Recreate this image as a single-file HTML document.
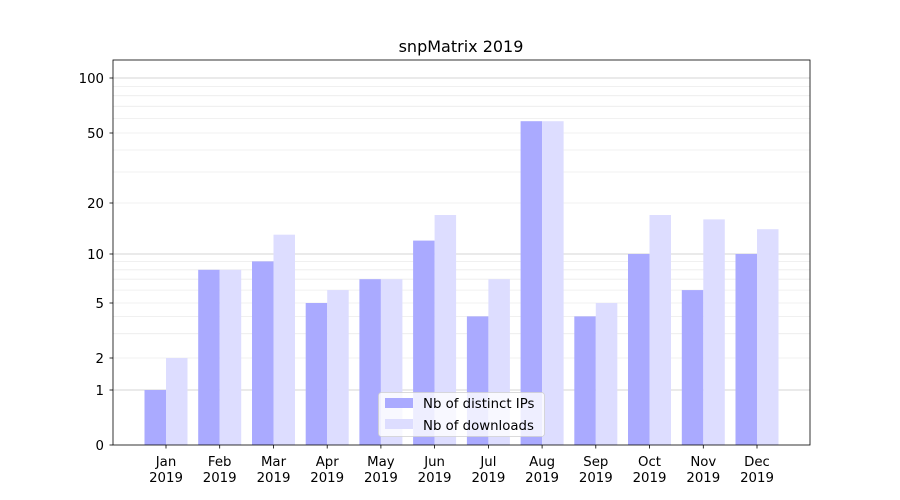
<!DOCTYPE html>
<html><head><meta charset="utf-8"><style>
html,body{margin:0;padding:0;background:#fff;}
svg{display:block;font-family:"DejaVu Sans","Liberation Sans",sans-serif;}
</style></head><body>
<svg id="s" width="900" height="500" viewBox="0 0 900 500" xmlns="http://www.w3.org/2000/svg"></svg>
<script>
var pts=[[1,390],[2,358],[5,303],[10,254],[20,203],[50,133],[100,78]];
function Y(v){
  if(v<=1) return 445-55*v;
  for(var i=0;i<pts.length-1;i++){
    var a=pts[i],b=pts[i+1];
    if(v<=b[0]) return a[1]+(b[1]-a[1])*Math.log(v/a[0])/Math.log(b[0]/a[0]);
  }
  var a=pts[5],b=pts[6];return a[1]+(b[1]-a[1])*Math.log(v/a[0])/Math.log(b[0]/a[0]);
}
var h='';
// minor grid
var minors=[2,3,4,5,6,7,8,9,20,30,40,50,60,70,80,90];
minors.forEach(function(v){var y=Y(v).toFixed(1);h+='<line x1="113" x2="810" y1="'+y+'" y2="'+y+'" stroke="#ececec" stroke-width="0.8"/>';});
[1,10,100].forEach(function(v){var y=Y(v).toFixed(1);h+='<line x1="113" x2="810" y1="'+y+'" y2="'+y+'" stroke="#c8c8c8" stroke-width="0.8"/>';});
var ip=[1,8,9,5,7,12,4,58,4,10,6,10], dl=[2,8,13,6,7,17,7,58,5,17,16,14];
var m=['Jan','Feb','Mar','Apr','May','Jun','Jul','Aug','Sep','Oct','Nov','Dec'];
for(var i=0;i<12;i++){
  var c=166+i*53.727;
  var y1=Y(ip[i]),y2=Y(dl[i]);
  h+='<rect x="'+(c-21.5).toFixed(1)+'" y="'+y1.toFixed(1)+'" width="21.5" height="'+(445-y1).toFixed(1)+'" fill="#aaaaff"/>';
  h+='<rect x="'+c.toFixed(1)+'" y="'+y2.toFixed(1)+'" width="21.5" height="'+(445-y2).toFixed(1)+'" fill="#ddddff"/>';
  h+='<line x1="'+c.toFixed(1)+'" x2="'+c.toFixed(1)+'" y1="445" y2="448.5" stroke="#000" stroke-width="0.8"/>';
  h+='<text x="'+c.toFixed(1)+'" y="466" font-size="13.3" text-anchor="middle">'+m[i]+'</text>';
  h+='<text x="'+c.toFixed(1)+'" y="482" font-size="13.3" text-anchor="middle">2019</text>';
}
[0,1,2,5,10,20,50,100].forEach(function(v){var y=(v==0?445:Y(v));
  h+='<line x1="109.5" x2="113" y1="'+y.toFixed(1)+'" y2="'+y.toFixed(1)+'" stroke="#000" stroke-width="0.8"/>';
  h+='<text x="104" y="'+(y+4.8).toFixed(1)+'" font-size="13.3" text-anchor="end">'+v+'</text>';});
h+='<rect x="113" y="60" width="697" height="385" fill="none" stroke="#000" stroke-width="0.8"/>';
h+='<text x="461" y="52" font-size="16" text-anchor="middle">snpMatrix 2019</text>';
// legend
h+='<rect x="378.5" y="392.5" width="166" height="44" rx="3" fill="#fff" fill-opacity="0.8" stroke="#d0d0d0" stroke-width="0.8"/>';
h+='<rect x="385" y="398" width="28" height="10" fill="#aaaaff"/>';
h+='<text x="423" y="408" font-size="13.3">Nb of distinct IPs</text>';
h+='<rect x="385" y="419" width="28" height="10" fill="#ddddff"/>';
h+='<text x="423" y="430" font-size="13.3">Nb of downloads</text>';
document.getElementById('s').innerHTML=h;
</script>
</body></html>
